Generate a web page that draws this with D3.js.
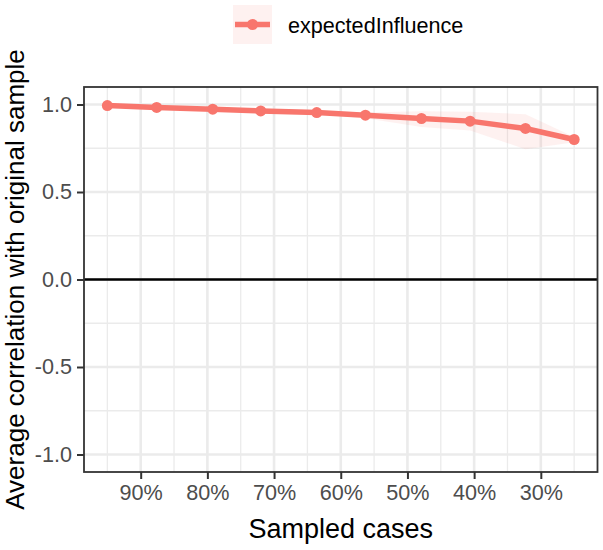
<!DOCTYPE html>
<html>
<head>
<meta charset="utf-8">
<script src="https://cdn.jsdelivr.net/npm/d3@7"></script>
<style>
  body { margin: 0; background: #fff; }
  text { font-family: "Liberation Sans", Arial, sans-serif; }
</style>
</head>
<body>
<div id="chart"></div>
<script>
// sampled share of cases (%), mean correlation and its quantile band
const sampled = [95, 87.6, 79.2, 72, 63.6, 56.3, 47.9, 40.6, 32.3, 25];
const avgCor = [0.994, 0.983, 0.973, 0.963, 0.954, 0.939, 0.920, 0.905, 0.863, 0.800];
const lowerQ = [0.988, 0.976, 0.965, 0.955, 0.944, 0.922, 0.872, 0.852, 0.745, 0.785];
const upperQ = [1.0, 0.99, 0.98, 0.97, 0.962, 0.955, 0.962, 0.958, 0.945, 0.815];
const xTicks = [90, 80, 70, 60, 50, 40, 30];
const xMinor = [95, 85, 75, 65, 55, 45, 35, 25];
const yTicks = [-1, -0.5, 0, 0.5, 1];
const yMinor = [-0.75, -0.25, 0.25, 0.75];
const seriesName = "expectedInfluence";

var width = 603, height = 550;
var col = "#F8766D";

var svg = d3.select("#chart").append("svg")
  .attr("width", width)
  .attr("height", height);

var x = d3.scaleLinear().domain([98.5, 21.5]).range([84, 597.5]);
var y = d3.scaleLinear().domain([-1.1, 1.1]).range([472, 87]);

// grid
svg.append("g").selectAll("line.xminor").data(xMinor).enter().append("line")
  .attr("x1", d => x(d)).attr("x2", d => x(d))
  .attr("y1", y.range()[0]).attr("y2", y.range()[1])
  .style("stroke", "#EBEBEB").style("stroke-width", 1.3);
svg.append("g").selectAll("line.yminor").data(yMinor).enter().append("line")
  .attr("x1", x.range()[0]).attr("x2", x.range()[1])
  .attr("y1", d => y(d)).attr("y2", d => y(d))
  .style("stroke", "#EBEBEB").style("stroke-width", 1.3);
svg.append("g").selectAll("line.xmajor").data(xTicks).enter().append("line")
  .attr("x1", d => x(d)).attr("x2", d => x(d))
  .attr("y1", y.range()[0]).attr("y2", y.range()[1])
  .style("stroke", "#EBEBEB").style("stroke-width", 2.6);
svg.append("g").selectAll("line.ymajor").data(yTicks).enter().append("line")
  .attr("x1", x.range()[0]).attr("x2", x.range()[1])
  .attr("y1", d => y(d)).attr("y2", d => y(d))
  .style("stroke", "#EBEBEB").style("stroke-width", 2.6);

// zero line
svg.append("line")
  .attr("x1", x.range()[0]).attr("x2", x.range()[1])
  .attr("y1", y(0)).attr("y2", y(0))
  .style("stroke", "#000").style("stroke-width", 2.6);

var pts = sampled.map((s, i) => ({s: s, v: avgCor[i], lo: lowerQ[i], hi: upperQ[i]}));

// band
svg.append("path")
  .datum(pts)
  .attr("d", d3.area().x(d => x(d.s)).y0(d => y(d.lo)).y1(d => y(d.hi)))
  .style("fill", col).style("fill-opacity", 0.1);

svg.append("path")
  .datum(pts)
  .attr("d", d3.line().x(d => x(d.s)).y(d => y(d.v)))
  .style("fill", "none").style("stroke", col).style("stroke-width", 5.5);

svg.append("g").selectAll("circle").data(pts).enter().append("circle")
  .attr("cx", d => x(d.s)).attr("cy", d => y(d.v)).attr("r", 5.5)
  .style("fill", col);

// panel border
svg.append("rect")
  .attr("x", x.range()[0]).attr("y", y.range()[1])
  .attr("width", x.range()[1] - x.range()[0])
  .attr("height", y.range()[0] - y.range()[1])
  .style("fill", "none").style("stroke", "#333").style("stroke-width", 1.8);

// axes
var xAxis = svg.append("g")
  .attr("transform", "translate(0," + y.range()[0] + ")")
  .call(d3.axisBottom(x).tickValues(xTicks).tickFormat(d => d + "%").tickSize(7).tickPadding(6));
var yAxis = svg.append("g")
  .attr("transform", "translate(" + x.range()[0] + ",0)")
  .call(d3.axisLeft(y).tickValues(yTicks).tickFormat(d3.format(".1f")).tickSize(7).tickPadding(5));
[xAxis, yAxis].forEach(function(a) {
  a.select(".domain").remove();
  a.selectAll("line").style("stroke", "#333").style("stroke-width", 2);
  a.selectAll("text").style("fill", "#4D4D4D").style("font-size", "21.6px")
    .style("font-family", "'Liberation Sans', Arial, sans-serif");
});
yAxis.selectAll("text").text(d => d < 0 ? "-" + d3.format(".1f")(-d) : d3.format(".1f")(d));

svg.append("text")
  .attr("x", (x.range()[0] + x.range()[1]) / 2)
  .attr("y", 538)
  .attr("text-anchor", "middle")
  .style("font-size", "27px")
  .text("Sampled cases");

svg.append("text")
  .attr("transform", "translate(23.5," + (y.range()[0] + y.range()[1]) / 2 + ") rotate(-90)")
  .attr("text-anchor", "middle")
  .style("font-size", "26px")
  .text("Average correlation with original sample");

// legend
var lg = svg.append("g").attr("transform", "translate(233,5)");
lg.append("rect").attr("width", 39).attr("height", 39)
  .style("fill", col).style("fill-opacity", 0.1);
lg.append("line").attr("x1", 2).attr("x2", 37).attr("y1", 19.5).attr("y2", 19.5)
  .style("stroke", col).style("stroke-width", 5.5);
lg.append("circle").attr("cx", 19.5).attr("cy", 19.5).attr("r", 5.5).style("fill", col);
lg.append("text").attr("x", 55).attr("y", 27.5)
  .style("font-size", "21.6px")
  .text(seriesName);
</script>
</body>
</html>
